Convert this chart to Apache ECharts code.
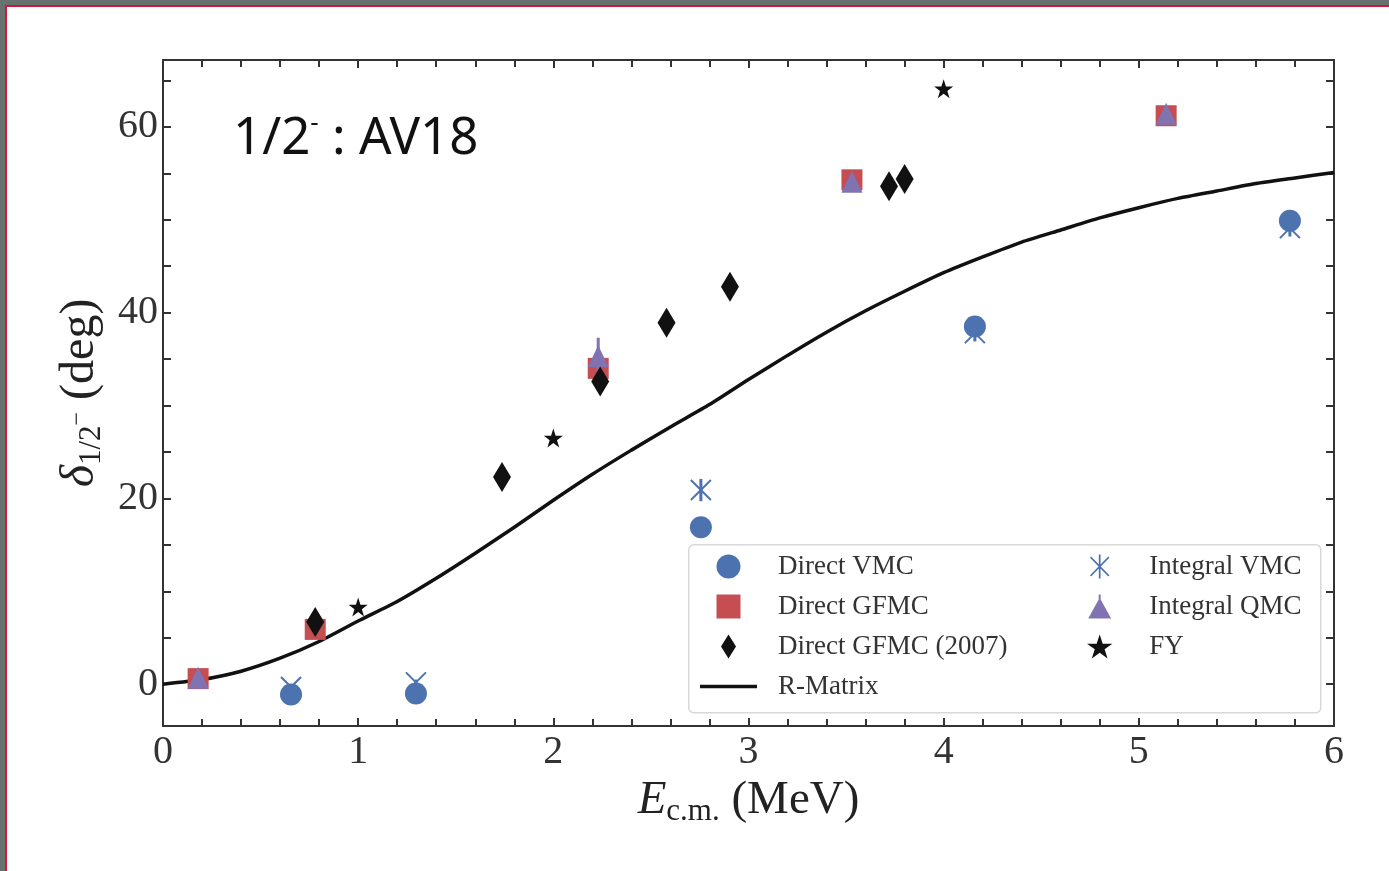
<!DOCTYPE html>
<html>
<head>
<meta charset="utf-8">
<script src="https://cdn.jsdelivr.net/npm/echarts@6/dist/echarts.min.js"></script>
<style>
  html, body { margin: 0; padding: 0; background: #fff; }
  .bar { position: absolute; }
  #chart { position: absolute; left: 0; top: 0; width: 1389px; height: 871px; }
</style>
</head>
<body>
<div class="bar" style="left:0;top:0;width:1389px;height:5px;background:#687170"></div>
<div class="bar" style="left:0;top:0;width:5px;height:871px;background:#687170"></div>
<div class="bar" style="left:5px;top:5px;width:1384px;height:2px;background:#d2173d"></div>
<div class="bar" style="left:5px;top:5px;width:2px;height:866px;background:#d2173d"></div>
<div id="chart"></div>
<script>
// --- data (E_cm in MeV, phase shift in deg) ---
const rmatrixE = [0, 0.2, 0.4, 0.6, 0.8, 1.0, 1.2, 1.4, 1.6, 1.8, 2.0, 2.2, 2.4, 2.6, 2.8, 3.0,
                  3.2, 3.4, 3.6, 3.8, 4.0, 4.2, 4.4, 4.6, 4.8, 5.0, 5.2, 5.4, 5.6, 5.8, 6.0];
const rmatrixDelta = [0, 0.5, 1.4, 2.8, 4.6, 6.8, 8.9, 11.4, 14.1, 16.9, 19.8, 22.6, 25.2, 27.7, 30.1, 32.8,
                      35.4, 37.9, 40.2, 42.3, 44.3, 46.0, 47.6, 48.9, 50.2, 51.3, 52.3, 53.1, 53.9, 54.5, 55.1];

const directVmc = [[0.656, -1.1], [1.296, -1.0], [2.756, 16.9], [4.16, 38.5], [5.774, 49.9]];
const directVmcErr = [0.5, 0.5, 0.5, 0.5, 0.5];

const integralVmc = [[0.656, -0.3], [1.296, 0.2], [2.756, 20.9], [4.16, 37.8], [5.774, 49.1]];
const integralVmcErr = [0.3, 0.3, 1.2, 0.9, 0.9];

const directGfmc = [[0.18, 0.6], [0.78, 5.9], [2.23, 34.0], [3.53, 54.3], [5.14, 61.2]];
const directGfmcErr = [0.5, 0.5, 0.8, 0.6, 0.6];

const integralQmc = [[0.18, 0.7], [2.23, 35.3], [3.53, 54.1], [5.14, 61.4]];
const integralQmcErr = [0.3, 2.0, 0.3, 0.3];

const directGfmc2007 = [[0.78, 6.7], [1.737, 22.3], [2.24, 32.6], [2.58, 38.9], [2.905, 42.8], [3.72, 53.6], [3.80, 54.4]];

const fy = [[1.0, 8.3], [2.0, 26.5], [4.0, 64.1]];

const xTicks = [0, 1, 2, 3, 4, 5, 6];
const yLabelValues = [0, 20, 40, 60];
const yTickValues = [0, 5, 10, 15, 20, 25, 30, 35, 40, 45, 50, 55, 60, 65];

// --- styles ---
const BLUE = '#4c72b0', RED = '#c44e52', PURPLE = '#8172b2', BLACK = '#111111';
const AXIS = '#333333';
const SERIF = '"Liberation Serif", "DejaVu Serif", serif';

const STAR = 'path://M50,0 L61.8,35.4 L99,35.4 L69,57.3 L80.4,92.7 L50,70.8 L19.6,92.7 L31,57.3 L1,35.4 L38.2,35.4 Z';
const SQUARE_ICON = 'path://M0,0H10V10H0Z';
const DIAMOND_ICON = 'path://M7.5,0L15,12L7.5,24L0,12Z';
const TRIANGLE_ICON = 'path://M9.6,0H11.4V7H9.6Z M10.5,3L21,22H0Z';
const ASTER_ICON = 'path://M9.2,0H10.8V22H9.2Z M1.1,2.9L2.1,1.9L18.9,19.1L17.9,20.1Z M17.9,1.9L18.9,2.9L2.1,20.1L1.1,19.1Z';
const LINE_ICON = 'path://M0,0H57V3.5H0Z';

function errorBars(pts, errs, color, z) {
  return {
    type: 'custom',
    name: '_err',
    z: z,
    silent: true,
    data: pts.map(function (p, i) { return [p[0], p[1] - errs[i], p[1] + errs[i]]; }),
    encode: { x: 0, y: [1, 2] },
    renderItem: function (params, api) {
      const lo = api.coord([api.value(0), api.value(1)]);
      const hi = api.coord([api.value(0), api.value(2)]);
      return {
        type: 'line',
        shape: { x1: lo[0], y1: lo[1], x2: hi[0], y2: hi[1] },
        style: { stroke: color, lineWidth: 3 }
      };
    }
  };
}

const chart = echarts.init(document.getElementById('chart'));

const axisCommon = {
  type: 'value',
  axisLine: { show: true, onZero: false, lineStyle: { color: AXIS, width: 2 } },
  axisTick: { show: true, inside: true, length: 8, lineStyle: { color: AXIS, width: 2 } },
  splitLine: { show: false }
};

const legendText = { fontFamily: SERIF, fontSize: 27, color: '#333', padding: [0, 0, 0, 16] };

const option = {
  animation: false,
  title: {
    text: '1/2{m|-} : AV18',
    left: 228,
    top: 106,
    textStyle: {
      fontFamily: '"Noto Sans", sans-serif',
      fontSize: 51,
      fontWeight: 'normal',
      color: BLACK,
      rich: {
        m: { fontFamily: '"Noto Sans", sans-serif', fontSize: 26, color: BLACK, padding: [0, 0, 30, 0] }
      }
    }
  },
  grid: { left: 163, right: 55, top: 60, bottom: 145 },
  legend: [
    {
      orient: 'vertical', left: 700, top: 553, padding: 0, itemGap: 13, z: 10,
      itemWidth: 57, itemHeight: 24,
      textStyle: legendText,
      data: [
        { name: 'Direct VMC', icon: 'circle' },
        { name: 'Direct GFMC', icon: SQUARE_ICON },
        { name: 'Direct GFMC (2007)', icon: DIAMOND_ICON },
        { name: 'R-Matrix', icon: LINE_ICON }
      ]
    },
    {
      orient: 'vertical', left: 1087, top: 553, padding: 0, itemGap: 13, z: 10,
      itemWidth: 57, itemHeight: 24,
      textStyle: legendText,
      data: [
        { name: 'Integral VMC', icon: ASTER_ICON },
        { name: 'Integral QMC', icon: TRIANGLE_ICON },
        { name: 'FY', icon: STAR }
      ]
    }
  ],
  graphic: [{
    type: 'rect', left: 688, top: 544, z: 1,
    shape: { width: 632, height: 168, r: 5 },
    style: { fill: 'rgba(255,255,255,0.85)', stroke: '#d8d8d8', lineWidth: 1.5 }
  }],
  xAxis: [
    Object.assign({}, axisCommon, {
      position: 'bottom', min: xTicks[0], max: xTicks[xTicks.length - 1], interval: 1,
      minorTick: { show: true, splitNumber: 5, length: 7, lineStyle: { color: AXIS, width: 2 } },
      axisLabel: { fontFamily: SERIF, fontSize: 40, color: '#333', margin: 6 },
      name: '{e|E}{s|c.m.}{n| (MeV)}',
      nameLocation: 'middle',
      nameGap: 45,
      nameTextStyle: {
        rich: {
          e: { fontFamily: SERIF, fontSize: 47, fontStyle: 'italic', color: '#222' },
          s: { fontFamily: SERIF, fontSize: 31, color: '#222', padding: [22, 0, 0, 0] },
          n: { fontFamily: SERIF, fontSize: 47, color: '#222' }
        }
      }
    }),
    Object.assign({}, axisCommon, {
      position: 'top', min: xTicks[0], max: xTicks[xTicks.length - 1], interval: 1,
      minorTick: { show: true, splitNumber: 5, length: 7, lineStyle: { color: AXIS, width: 2 } },
      axisLabel: { show: false }
    })
  ],
  yAxis: [
    Object.assign({}, axisCommon, {
      position: 'left', min: -4.5, max: 67.2,
      axisTick: { show: true, inside: true, length: 8, customValues: yTickValues, lineStyle: { color: AXIS, width: 2 } },
      axisLabel: { fontFamily: SERIF, fontSize: 40, color: '#333', margin: 5, customValues: yLabelValues },
      name: '{d|δ}{s|1/2}{p|−}{n| (deg)}',
      nameLocation: 'middle',
      nameRotate: 90,
      nameGap: 50,
      nameTextStyle: {
        rich: {
          d: { fontFamily: SERIF, fontSize: 48, fontStyle: 'italic', color: '#222' },
          s: { fontFamily: SERIF, fontSize: 31, color: '#222', padding: [22, 0, 0, 0] },
          p: { fontFamily: SERIF, fontSize: 24, color: '#222', padding: [0, 0, 6, 0] },
          n: { fontFamily: SERIF, fontSize: 48, color: '#222' }
        }
      }
    }),
    Object.assign({}, axisCommon, {
      position: 'right', min: -4.5, max: 67.2,
      axisTick: { show: true, inside: true, length: 8, customValues: yTickValues, lineStyle: { color: AXIS, width: 2 } },
      axisLabel: { show: false }
    })
  ],
  series: [
    {
      name: 'R-Matrix', type: 'line', z: 1,
      data: rmatrixE.map(function (e, i) { return [e, rmatrixDelta[i]]; }),
      symbol: 'none', smooth: 0.2,
      lineStyle: { color: BLACK, width: 3.5 },
      itemStyle: { color: BLACK }
    },
    errorBars(directGfmc, directGfmcErr, RED, 2),
    {
      name: 'Direct GFMC', type: 'scatter', z: 2,
      data: directGfmc, symbol: 'rect', symbolSize: 21,
      itemStyle: { color: RED, opacity: 1 }
    },
    errorBars(integralQmc, integralQmcErr, PURPLE, 3),
    {
      name: 'Integral QMC', type: 'scatter', z: 3,
      data: integralQmc, symbol: 'triangle', symbolSize: [21, 22],
      itemStyle: { color: PURPLE, opacity: 1 }
    },
    {
      name: 'Direct GFMC (2007)', type: 'scatter', z: 4,
      data: directGfmc2007, symbol: 'diamond', symbolSize: [18, 30],
      itemStyle: { color: BLACK, opacity: 1 }
    },
    {
      name: 'Integral VMC', type: 'custom', z: 3,
      itemStyle: { color: BLUE },
      data: integralVmc.map(function (p, i) { return [p[0], p[1], integralVmcErr[i]]; }),
      encode: { x: 0, y: 1 },
      renderItem: function (params, api) {
        const x = api.value(0), y = api.value(1), e = api.value(2);
        const c = api.coord([x, y]);
        const lo = api.coord([x, y - e]);
        const hi = api.coord([x, y + e]);
        const h = 10;
        const st = { stroke: BLUE, lineWidth: 2 };
        return {
          type: 'group',
          children: [
            { type: 'line', shape: { x1: c[0] - h, y1: c[1] - h, x2: c[0] + h, y2: c[1] + h }, style: st },
            { type: 'line', shape: { x1: c[0] + h, y1: c[1] - h, x2: c[0] - h, y2: c[1] + h }, style: st },
            { type: 'line', shape: { x1: lo[0], y1: lo[1], x2: hi[0], y2: hi[1] }, style: { stroke: BLUE, lineWidth: 3 } }
          ]
        };
      }
    },
    errorBars(directVmc, directVmcErr, BLUE, 5),
    {
      name: 'Direct VMC', type: 'scatter', z: 5,
      data: directVmc, symbol: 'circle', symbolSize: 22,
      itemStyle: { color: BLUE, opacity: 1 }
    },
    {
      name: 'FY', type: 'scatter', z: 5,
      data: fy, symbol: STAR, symbolSize: 19,
      itemStyle: { color: BLACK, opacity: 1 }
    }
  ]
};

chart.setOption(option);

window.addEventListener('resize', function () {
  chart.resize();
});
</script>
</body>
</html>
